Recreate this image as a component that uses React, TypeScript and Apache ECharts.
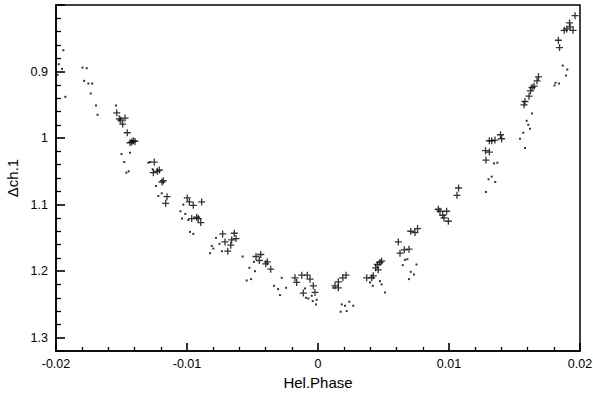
import React, { useEffect, useRef } from "react";
import * as echarts from "echarts";

// Hel.Phase / Δch.1 pairs, "+" markers
const plusPhase = [
  -0.01536, -0.01517, -0.01506, -0.01473, -0.01491, -0.01456, -0.01435, -0.01422, -0.0141, -0.01397,
  -0.0125, -0.01257, -0.01227, -0.01211, -0.01191, -0.01181, -0.01153, -0.01163,
  -0.00998, -0.00982, -0.00952, -0.00888, -0.00964, -0.00926, -0.00914, -0.00895,
  -0.00728, -0.00639, -0.00626, -0.00659, -0.0071, -0.00666, -0.00689,
  -0.00473, -0.00437, -0.00448, -0.00399, -0.00361, -0.00387,
  -0.00176, -0.00163, -0.00124, -0.00082, -0.00061, -0.00036, -0.00112, -0.00023,
  0.0013, 0.00155, 0.00155, 0.00189, 0.00214,
  0.00372, 0.0041, 0.00422, 0.0044, 0.00453, 0.00473, 0.00486, 0.0046,
  0.00613, 0.00626, 0.00659, 0.00695, 0.00708, 0.0074, 0.0076,
  0.00918, 0.00931, 0.00982, 0.00952, 0.00962, 0.00995,
  0.01073, 0.01061,
  0.01393, 0.01402, 0.01351, 0.01326, 0.01308, 0.01279, 0.01308, 0.01282,
  0.01683, 0.01672, 0.01649, 0.01634, 0.01622, 0.01611, 0.0158, 0.01573,
  0.01962, 0.0192, 0.01924, 0.01899, 0.0188, 0.01947, 0.01835, 0.01844,
];
const plusDelta = [
  0.962, 0.971, 0.973, 0.97, 0.979, 0.992, 1.007, 1.006, 1.004, 1.005,
  1.036, 1.052, 1.05, 1.048, 1.066, 1.064, 1.088, 1.098,
  1.09, 1.096, 1.101, 1.096, 1.121, 1.119, 1.121, 1.127,
  1.144, 1.143, 1.151, 1.153, 1.156, 1.161, 1.17,
  1.178, 1.175, 1.184, 1.189, 1.197, 1.186,
  1.21, 1.217, 1.206, 1.206, 1.212, 1.222, 1.233, 1.232,
  1.222, 1.216, 1.225, 1.21, 1.206,
  1.21, 1.21, 1.207, 1.195, 1.19, 1.187, 1.185, 1.198,
  1.156, 1.173, 1.168, 1.167, 1.14, 1.142, 1.136,
  1.107, 1.11, 1.11, 1.116, 1.12, 1.125,
  1.075, 1.086,
  0.995, 1.001, 1.003, 1.004, 1.004, 1.019, 1.021, 1.033,
  0.908, 0.914, 0.922, 0.924, 0.929, 0.937, 0.945, 0.95,
  0.816, 0.827, 0.833, 0.836, 0.838, 0.838, 0.853, 0.864,
];

// dot markers
const dotPhase = [
  -0.01944, -0.01979, -0.01954, -0.01988, -0.01929, -0.01798, -0.01765, -0.01785, -0.01753, -0.01724,
  -0.01735, -0.01695, -0.01683, -0.01542, -0.015, -0.01479, -0.01463, -0.01445, -0.01435,
  -0.01295, -0.01282, -0.01262, -0.01237, -0.01219, -0.01193,
  -0.0105, -0.01013, -0.01038, -0.0099, -0.01028, -0.00977, -0.00952,
  -0.00779, -0.00811, -0.00799, -0.00824, -0.00752, -0.00733,
  -0.00575, -0.00544, -0.00511, -0.00524, -0.00489, -0.00481,
  -0.00336, -0.00305, -0.0029, -0.00277, -0.00244,
  -0.00099, -0.00092, -0.00074, -0.0004, -0.0001, -0.00015, -0.00048,
  0.00117, 0.00181, 0.00206, 0.00239, 0.00269, 0.00173, 0.00219,
  0.00397, 0.00418, 0.00486, 0.00511, 0.00473,
  0.00664, 0.00682, 0.00647, 0.00752, 0.00708, 0.00733, 0.00695,
  0.01344, 0.01369, 0.01326, 0.01302, 0.01353, 0.01282,
  0.01542, 0.0158, 0.01567, 0.01618, 0.01605, 0.01593, 0.01634,
  0.01805, 0.01813, 0.0184, 0.01868, 0.01903, 0.01893,
];
const dotDelta = [
  0.868, 0.889, 0.896, 0.905, 0.938, 0.894, 0.895, 0.914, 0.918, 0.918,
  0.933, 0.951, 0.965, 0.951, 1.024, 1.036, 1.052, 1.05, 1.022,
  1.037, 1.036, 1.047, 1.072, 1.087, 1.083,
  1.11, 1.114, 1.121, 1.123, 1.1, 1.141, 1.144,
  1.15, 1.162, 1.166, 1.173, 1.159, 1.17,
  1.178, 1.214, 1.212, 1.195, 1.186, 1.2,
  1.222, 1.227, 1.236, 1.21, 1.225,
  1.226, 1.24, 1.241, 1.245, 1.243, 1.25, 1.237,
  1.225, 1.25, 1.252, 1.246, 1.252, 1.261, 1.26,
  1.217, 1.222, 1.22, 1.232, 1.215,
  1.183, 1.182, 1.191, 1.19, 1.201, 1.205, 1.212,
  1.038, 1.037, 1.058, 1.062, 1.066, 1.081,
  1.001, 1.015, 0.992, 0.986, 0.98, 0.974, 0.963,
  0.921, 0.917, 0.918, 0.891, 0.897, 0.906,
];

const xTicks = { min: -0.02, max: 0.02, interval: 0.01 };
const yTicks = { min: 0.8, max: 1.32, interval: 0.1 };

export default function App() {
  const ref = useRef<HTMLDivElement>(null);
  useEffect(() => {
    document.body.style.margin = "0";
    if (!ref.current) return;
    const chart = echarts.init(ref.current, null, { renderer: "svg" });
    const font = "Liberation Sans, Arial, Helvetica, sans-serif";
    chart.setOption({
      animation: false,
      backgroundColor: "#fff",
      grid: {
        left: 56,
        top: 5,
        right: 13,
        bottom: 46,
        containLabel: false,
        outerBoundsMode: "none",
        show: true,
        borderColor: "#000",
        borderWidth: 1.5,
        backgroundColor: "transparent",
      },
      xAxis: {
        type: "value",
        min: xTicks.min,
        max: xTicks.max,
        interval: xTicks.interval,
        name: "Hel.Phase",
        nameLocation: "middle",
        nameGap: 22,
        nameTextStyle: { fontFamily: font, fontSize: 15, color: "#000" },
        axisLine: { show: true, onZero: false, lineStyle: { color: "#000", width: 1.5 } },
        axisTick: { show: true, inside: true, length: 8, lineStyle: { color: "#000", width: 1.6 } },
        minorTick: { show: true, splitNumber: 5, length: 4, lineStyle: { color: "#000", width: 1.3 } },
        splitLine: { show: false },
        axisLabel: { fontFamily: font, fontSize: 12.5, color: "#000", margin: 6 },
      },
      yAxis: {
        type: "value",
        inverse: true,
        min: yTicks.min,
        max: yTicks.max,
        interval: yTicks.interval,
        name: "Δch.1",
        nameLocation: "middle",
        nameGap: 27,
        nameTextStyle: { fontFamily: font, fontSize: 15, color: "#000" },
        axisLine: { show: true, onZero: false, lineStyle: { color: "#000", width: 1.5 } },
        axisTick: { show: true, inside: true, length: 9, lineStyle: { color: "#000", width: 1.6 } },
        minorTick: { show: true, splitNumber: 5, length: 5, lineStyle: { color: "#000", width: 1.3 } },
        splitLine: { show: false },
        axisLabel: {
          fontFamily: font,
          fontSize: 12.5,
          color: "#000",
          margin: 8,
          showMinLabel: false,
          showMaxLabel: false,
        },
      },
      series: [
        {
          type: "scatter",
          data: plusPhase.map((x, i) => [x, plusDelta[i]]),
          symbol: "path://M5,0L5,10M0,5L10,5",
          symbolSize: 7,
          itemStyle: { color: "transparent", borderColor: "#000", borderWidth: 1.3 },
        },
        {
          type: "scatter",
          data: dotPhase.map((x, i) => [x, dotDelta[i]]),
          symbol: "rect",
          symbolSize: 2,
          itemStyle: { color: "#000" },
        },
      ],
    });
    return () => chart.dispose();
  }, []);
  return <div ref={ref} style={{ width: 593, height: 397 }} />;
}
